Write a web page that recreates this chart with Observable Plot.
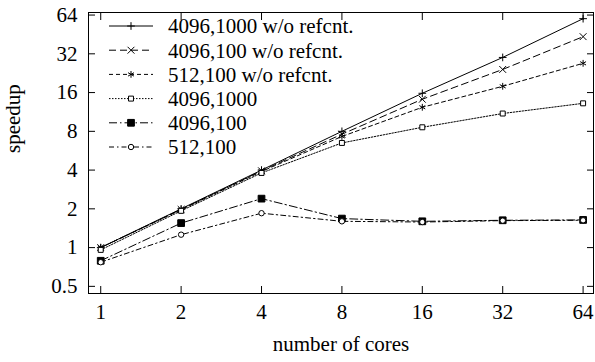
<!DOCTYPE html>
<html>
<head>
<meta charset="utf-8">
<script src="https://cdn.jsdelivr.net/npm/d3@7"></script>
<script src="https://cdn.jsdelivr.net/npm/@observablehq/plot@0.6"></script>
<style>
  html, body { margin: 0; padding: 0; background: #fff; }
  svg, svg text { font-family: "Liberation Serif", "Times New Roman", serif !important; }
</style>
</head>
<body>
<div id="chart"></div>
<script>
// ---- data ----
const cores = [1, 2, 4, 8, 16, 32, 64];
const seriesNames = [
  "4096,1000 w/o refcnt.",
  "4096,100 w/o refcnt.",
  "512,100 w/o refcnt.",
  "4096,1000",
  "4096,100",
  "512,100"
];
const s4096_1000_noref = [1.0, 2.0, 4.0, 8.0, 15.8, 30.0, 60.0];
const s4096_100_noref  = [1.0, 1.98, 3.95, 7.6, 14.2, 24.2, 43.5];
const s512_100_noref   = [1.0, 1.97, 3.9, 7.3, 12.3, 17.9, 27.0];
const s4096_1000       = [0.96, 1.93, 3.8, 6.5, 8.6, 11.0, 13.2];
const s4096_100        = [0.79, 1.55, 2.4, 1.68, 1.6, 1.63, 1.64];
const s512_100         = [0.77, 1.26, 1.85, 1.6, 1.58, 1.62, 1.63];
const yTicks = [0.5, 1, 2, 4, 8, 16, 32, 64];
const xTicks = cores;
const xLabel = "number of cores";
const yLabel = "speedup";

// ---- styles ----
const FONT = '"Liberation Serif", "Times New Roman", serif';
const seriesValues = [s4096_1000_noref, s4096_100_noref, s512_100_noref, s4096_1000, s4096_100, s512_100];
const styles = [
  {dash: null,          symbol: "plus",     fill: "none",  r: 2.6},
  {dash: "7,4",         symbol: "times",    fill: "none",  r: 3.2},
  {dash: "4,3",         symbol: "asterisk", fill: "none",  r: 3.2},
  {dash: "1.5,1.5",     symbol: "square",   fill: "white", r: 2.8},
  {dash: "8,3,1.5,3",   symbol: "square",   fill: "black", r: 3.8},
  {dash: "5,3,1.5,3",   symbol: "circle",   fill: "white", r: 2.7}
];
const symbolMap = {plus: d3.symbolPlus, times: d3.symbolTimes, asterisk: d3.symbolAsterisk, square: d3.symbolSquare, circle: d3.symbolCircle};

const table = [];
seriesNames.forEach((name, i) => {
  cores.forEach((c, j) => table.push({series: name, si: i, cores: c, speedup: seriesValues[i][j]}));
});

const FS = 21;
const marks = [];
// lines
seriesNames.forEach((name, i) => {
  const data = table.filter(d => d.si === i);
  marks.push(Plot.line(data, {x: "cores", y: "speedup", stroke: "black", strokeWidth: 1, strokeDasharray: styles[i].dash || undefined}));
});
// markers
seriesNames.forEach((name, i) => {
  const data = table.filter(d => d.si === i);
  marks.push(Plot.dot(data, {x: "cores", y: "speedup", symbol: () => styles[i].symbol, r: styles[i].r, stroke: "black", strokeWidth: 1, fill: styles[i].fill}));
});
// frame + inward ticks
marks.push(Plot.frame({stroke: "black", strokeWidth: 1}));
marks.push(Plot.axisY({anchor: "left", ticks: yTicks, tickSize: -7, tickFormat: () => "", label: null}));
marks.push(Plot.axisY({anchor: "right", ticks: yTicks, tickSize: -7, tickFormat: () => "", label: null}));
marks.push(Plot.axisX({anchor: "bottom", ticks: xTicks, tickSize: -7, tickFormat: () => "", label: null}));
marks.push(Plot.axisX({anchor: "top", ticks: xTicks, tickSize: -7, tickFormat: () => "", label: null}));
// tick labels
marks.push(Plot.axisY({anchor: "left", ticks: yTicks, tickSize: 0, tickPadding: 11, tickFormat: d => String(d), label: null, fontSize: FS, fontFamily: FONT, fontVariant: "normal", fill: "black"}));
marks.push(Plot.axisX({anchor: "bottom", ticks: xTicks, tickSize: 0, tickPadding: 11, tickFormat: d => String(d), label: null, fontSize: FS, fontFamily: FONT, fontVariant: "normal", fill: "black"}));
// axis titles
marks.push(Plot.text([yLabel], {text: d => d, frameAnchor: "left", dx: -75, rotate: -90, fontSize: FS, fontFamily: FONT, fill: "black"}));
marks.push(Plot.text([xLabel], {text: d => d, frameAnchor: "bottom", dy: 57, fontSize: FS, fontFamily: FONT, fill: "black"}));
// legend (custom render, positioned relative to the frame)
marks.push(function legend(index, scales, values, dims) {
  const g = d3.create("svg:g");
  const x0 = dims.marginLeft + 21, x1 = dims.marginLeft + 65, xm = (x0 + x1) / 2, xt = dims.marginLeft + 80;
  const y0 = dims.marginTop + 14, dy = 24.2;
  seriesNames.forEach((name, i) => {
    const y = y0 + i * dy;
    const st = styles[i];
    g.append("line").attr("x1", x0).attr("x2", x1).attr("y1", y).attr("y2", y)
      .attr("stroke", "black").attr("stroke-width", 1).attr("stroke-dasharray", st.dash);
    g.append("path").attr("transform", `translate(${xm},${y})`)
      .attr("d", d3.symbol(symbolMap[st.symbol], st.r * st.r * Math.PI)())
      .attr("stroke", "black").attr("stroke-width", 1).attr("fill", st.fill);
    g.append("text").attr("x", xt).attr("y", y).attr("dy", "0.35em")
      .attr("text-anchor", "start").attr("font-family", FONT)
      .attr("font-size", FS).attr("fill", "black").text(name);
  });
  return g.node();
});

const chart = Plot.plot({
  width: 595,
  height: 362,
  marginLeft: 88,
  marginRight: 2,
  marginTop: 12,
  marginBottom: 69,
  style: {fontFamily: FONT, fontSize: FS + "px", background: "white", color: "black"},
  x: {type: "log", base: 2, domain: [0.9, 70], axis: null},
  y: {type: "log", base: 2, domain: [0.44, 67], axis: null},
  marks
});
document.getElementById("chart").appendChild(chart);
</script>
</body>
</html>
